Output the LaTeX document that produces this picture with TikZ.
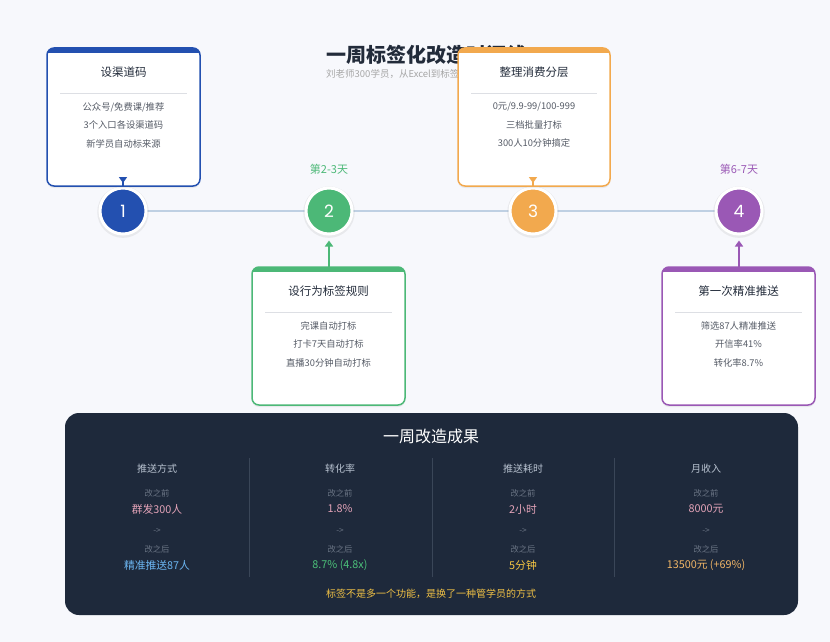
\documentclass[tikz,border=0pt]{standalone}
\usepackage{fontspec}
\setmainfont{Noto Sans CJK SC}
\newfontfamily\pop{Poppins}
\usetikzlibrary{shadows,arrows.meta}
\definecolor{bgc}{HTML}{F7F8FC}
\definecolor{cblue}{HTML}{2350B0}
\definecolor{cgreen}{HTML}{4CB877}
\definecolor{corange}{HTML}{F2A94E}
\definecolor{cpurple}{HTML}{9A58B5}
\definecolor{tline}{HTML}{BFD0E3}
\definecolor{panel}{HTML}{1E293B}
\definecolor{ttxt}{HTML}{222B3A}
\definecolor{itxt}{HTML}{555B66}
\definecolor{sepc}{HTML}{DDDFE4}
\definecolor{headc}{HTML}{B8C2D0}
\definecolor{dimc}{HTML}{6B7585}
\definecolor{pinkc}{HTML}{E3A3B8}
\definecolor{bluec}{HTML}{6CB6F2}
\definecolor{greenc}{HTML}{4CC27A}
\definecolor{yellc}{HTML}{F5C542}
\definecolor{orc}{HTML}{F0B566}
\definecolor{goldc}{HTML}{EFC045}
\definecolor{colsep}{HTML}{3A4658}
\tikzset{
  cardtitle/.style={text=ttxt, font=\fontsize{11.5}{14}\selectfont, inner sep=0},
  carditems/.style={text=itxt, font=\fontsize{9.3}{18.5}\selectfont, align=center, inner sep=0},
  sepline/.style={sepc, line width=0.8},
  numcirc/.style={circle, minimum size=46, inner sep=0, draw=white, line width=3,
     text=white, font=\pop\fontsize{17}{17}\selectfont,
     drop shadow={opacity=0.12, shadow xshift=0pt, shadow yshift=-1pt, shadow scale=1.12}},
  daylbl/.style={font=\fontsize{11}{13}\selectfont, inner sep=0},
  colhead/.style={text=headc, font=\fontsize{10}{12}\selectfont, inner sep=0},
  dimlbl/.style={text=dimc, font=\fontsize{8.3}{10}\selectfont, inner sep=0},
  valtxt/.style={font=\fontsize{10.8}{12}\selectfont, inner sep=0},
  conn/.style={line width=1.5},
}
\newcommand\mycard[8]{%
  \fill[white, rounded corners=7, drop shadow={opacity=0.12, shadow xshift=0pt, shadow yshift=-2pt}] (#2,#3) rectangle (#4,#5);
  \begin{scope}
    \clip[rounded corners=7] (#2,#3) rectangle (#4,#5);
    \fill[#6] (#2,#3) rectangle (#4,#3+5);
  \end{scope}
  \draw[#6, line width=1.5, rounded corners=7] (#2,#3) rectangle (#4,#5);
  \node[cardtitle] (#1t) at ({(#2+#4)/2}, #3+24) {#7};
  \draw[sepline] (#2+13, #3+45) -- (#4-13, #3+45);
  \node[carditems] (#1i) at ({(#2+#4)/2}, #3+77) {#8};
}
\begin{document}
\begin{tikzpicture}[x=1pt, y=-1pt]
\fill[bgc] (0,0) rectangle (830,642);
\useasboundingbox (0,0) rectangle (830,642);

% title
\node[anchor=west, text=ttxt, font=\fontsize{20}{24}\selectfont\bfseries, inner sep=0] (title) at (326,55) {一周标签化改造时间线};
\node[anchor=west, text=gray!70, font=\fontsize{9.5}{12}\selectfont, inner sep=0] (subtitle) at (326,74) {刘老师300学员，从Excel到标签化管理};

% timeline
\draw[tline, line width=2] (123,211) -- (739,211);
\node[numcirc, fill=cblue] (c1) at (123,211) {1};
\node[numcirc, fill=cgreen] (c2) at (329,211) {2};
\node[numcirc, fill=corange] (c3) at (533,211) {3};
\node[numcirc, fill=cpurple] (c4) at (739,211) {4};
\node[daylbl, text=cgreen] (d2) at (329,169) {第2-3天};
\node[daylbl, text=cpurple] (d4) at (739,169) {第6-7天};

% cards
\mycard{k1}{47}{48}{200}{186}{cblue}{设渠道码}{公众号/免费课/推荐\\3个入口各设渠道码\\新学员自动标来源}
\mycard{k3}{458}{48}{610}{186}{corange}{整理消费分层}{0元/9.9-99/100-999\\三档批量打标\\300人10分钟搞定}
\mycard{k2}{252}{267}{405}{405}{cgreen}{设行为标签规则}{完课自动打标\\打卡7天自动打标\\直播30分钟自动打标}
\mycard{k4}{662}{267}{815}{405}{cpurple}{第一次精准推送}{筛选87人精准推送\\开信率41\%\\转化率8.7\%}

% connectors
\coordinate (a1) at (123,177);
\coordinate (a3) at (533,177);
\coordinate (a2) at (329,268);
\coordinate (a4) at (739,268);
\draw[conn, cblue, -{Triangle[reversed, width=8pt, length=6pt]}] (c1.north) -- (a1);
\draw[conn, corange, -{Triangle[reversed, width=8pt, length=6pt]}] (c3.north) -- (a3);
\draw[conn, cgreen, -{Triangle[width=8pt, length=6pt]}] (a2) -- ([yshift=-5pt]c2.south);
\draw[conn, cpurple, -{Triangle[width=8pt, length=6pt]}] (a4) -- ([yshift=-5pt]c4.south);

% results panel
\fill[panel, rounded corners=14] (65,413) rectangle (798,615);
\node[text=white, font=\fontsize{16}{18}\selectfont, inner sep=0] (ptitle) at (431,436) {一周改造成果};
\foreach \xx in {249,432,614} \draw[colsep, line width=0.6] (\xx,458) -- (\xx,577);

\node[colhead] (h1) at (157,469) {推送方式};
\node[colhead] (h2) at (340,469) {转化率};
\node[colhead] (h3) at (523,469) {推送耗时};
\node[colhead] (h4) at (706,469) {月收入};
\foreach \xx/\nm in {157/1,340/2,523/3,706/4}{
  \node[dimlbl] (bf\nm) at (\xx,493) {改之前};
  \node[dimlbl] (ar\nm) at (\xx,531) {->};
  \node[dimlbl] (af\nm) at (\xx,549) {改之后};
}
\node[valtxt, text=pinkc] (v1) at (157,509) {群发300人};
\node[valtxt, text=pinkc] (v2) at (340,509) {1.8\%};
\node[valtxt, text=pinkc] (v3) at (523,509) {2小时};
\node[valtxt, text=pinkc] (v4) at (706,509) {8000元};
\node[valtxt, text=bluec] (w1) at (157,565) {精准推送87人};
\node[valtxt, text=greenc] (w2) at (340,565) {8.7\% (4.8x)};
\node[valtxt, text=yellc] (w3) at (523,565) {5分钟};
\node[valtxt, text=orc] (w4) at (706,565) {13500元 (+69\%)};
\node[text=goldc, font=\fontsize{10}{12}\selectfont, inner sep=0] (motto) at (431,594) {标签不是多一个功能，是换了一种管学员的方式};
\end{tikzpicture}
\end{document}
